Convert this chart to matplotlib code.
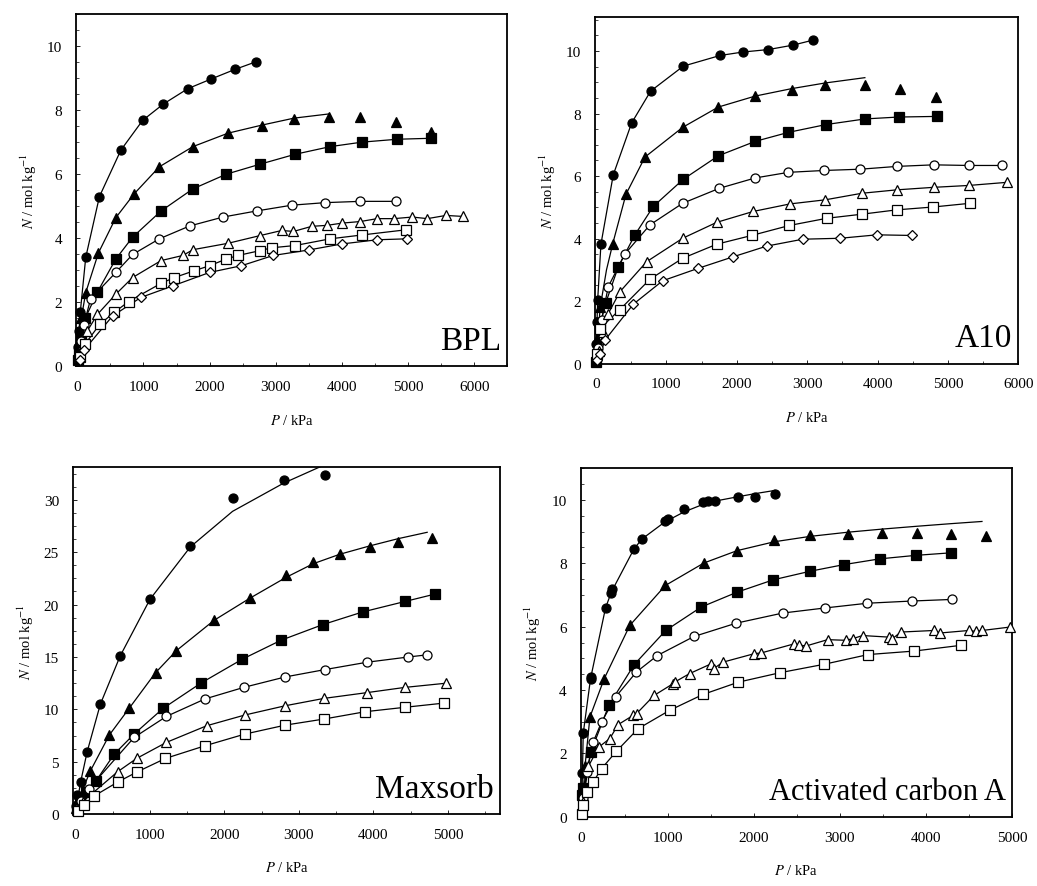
import matplotlib.pyplot as plt
from matplotlib.ticker import MultipleLocator

plt.rcParams['font.family'] = ['Liberation Serif', 'DejaVu Serif']
plt.rcParams['mathtext.fontset'] = 'stix'

# ---------------- BPL ----------------
bpl_fc = [(5, 0.3), (15, 0.6), (25, 1.1), (45, 1.7), (127, 3.4), (334, 5.3), (658, 6.75), (987, 7.68),
          (1300, 8.19), (1670, 8.67), (2020, 8.97), (2380, 9.27), (2700, 9.51)]
bpl_ft = [(10, 0.3), (30, 0.8), (60, 1.5), (127, 2.3), (319, 3.54), (582, 4.64), (861, 5.39), (1240, 6.23),
          (1747, 6.86), (2278, 7.28), (2785, 7.51), (3276, 7.72), (3797, 7.79), (4278, 7.79),
          (4810, 7.64), (5342, 7.33)]
bpl_ft_line = [(0, 0), (30, 0.8), (60, 1.5), (127, 2.3), (319, 3.54), (582, 4.64), (861, 5.39), (1240, 6.23),
               (1747, 6.86), (2278, 7.28), (2785, 7.53), (3276, 7.75), (3800, 7.88)]
bpl_fs = [(10, 0.2), (30, 0.5), (60, 0.9), (120, 1.5), (304, 2.32), (582, 3.35), (835, 4.03), (1266, 4.85),
          (1747, 5.54), (2253, 6.0), (2760, 6.31), (3291, 6.62), (3823, 6.86), (4304, 7.0),
          (4835, 7.09), (5342, 7.12)]
bpl_oc = [(20, 0.3), (50, 0.8), (100, 1.3), (200, 2.1), (582, 2.93), (835, 3.49), (1240, 3.98),
          (1696, 4.38), (2203, 4.66), (2709, 4.85), (3240, 5.03), (3747, 5.11), (4278, 5.15), (4810, 5.15)]
bpl_ot = [(30, 0.3), (80, 0.7), (150, 1.1), (304, 1.62), (582, 2.25), (835, 2.77), (1266, 3.30),
          (1595, 3.46), (1747, 3.64), (2278, 3.84), (2760, 4.08), (3089, 4.24), (3266, 4.21), (3544, 4.37),
          (3772, 4.40), (4000, 4.47), (4278, 4.52), (4532, 4.61), (4785, 4.61), (5063, 4.66), (5291, 4.61),
          (5570, 4.71), (5823, 4.68)]
bpl_os = [(40, 0.3), (120, 0.7), (339, 1.31), (557, 1.68), (775, 2.02), (1266, 2.59), (1468, 2.77),
          (1762, 2.98), (2000, 3.14), (2253, 3.35), (2430, 3.46), (2760, 3.61), (2937, 3.70), (3291, 3.77),
          (3823, 3.98), (4304, 4.10), (4962, 4.26)]
bpl_od = [(40, 0.2), (100, 0.5), (532, 1.57), (962, 2.15), (1443, 2.51), (2000, 2.93), (2481, 3.14),
          (2962, 3.46), (3494, 3.63), (4000, 3.82), (4532, 3.95), (4987, 3.98)]

# ---------------- A10 ----------------
a10_fc = [(5, 0.64), (15, 1.34), (25, 2.05), (71, 3.82), (246, 6.04), (507, 7.70), (777, 8.72), (1242, 9.52),
          (1763, 9.86), (2085, 9.97), (2450, 10.05), (2796, 10.19), (3081, 10.35)]
a10_ft = [(20, 0.8), (60, 1.8), (246, 3.82), (427, 5.42), (697, 6.61), (1232, 7.56), (1739, 8.21),
          (2261, 8.56), (2782, 8.77), (3256, 8.93), (3825, 8.93), (4322, 8.79), (4834, 8.52)]
a10_ft_line = [(0, 0), (60, 1.8), (150, 3.0), (246, 3.9), (427, 5.42), (697, 6.61), (1232, 7.56), (1739, 8.21),
               (2261, 8.56), (2782, 8.80), (3256, 8.98), (3820, 9.15)]
a10_fs = [(5, 0.05), (57, 1.23), (137, 1.93), (318, 3.10), (554, 4.12), (815, 5.03), (1242, 5.90),
          (1739, 6.65), (2261, 7.11), (2735, 7.40), (3270, 7.65), (3825, 7.83), (4299, 7.89), (4843, 7.91)]
a10_oc = [(30, 0.5), (80, 1.4), (175, 2.46), (412, 3.51), (768, 4.44), (1232, 5.13), (1754, 5.61),
          (2261, 5.94), (2735, 6.12), (3242, 6.18), (3754, 6.22), (4275, 6.31), (4796, 6.36),
          (5294, 6.34), (5768, 6.34)]
a10_ot = [(40, 0.4), (100, 1.0), (175, 1.6), (341, 2.30), (720, 3.26), (1232, 4.01), (1716, 4.52),
          (2237, 4.87), (2758, 5.11), (3256, 5.24), (3777, 5.45), (4275, 5.56), (4796, 5.64),
          (5294, 5.70), (5839, 5.80)]
a10_os = [(20, 0.3), (57, 1.12), (341, 1.73), (768, 2.70), (1232, 3.37), (1716, 3.82), (2213, 4.10),
          (2749, 4.42), (3280, 4.65), (3777, 4.78), (4275, 4.92), (4787, 5.01), (5318, 5.13)]
a10_od = [(20, 0.1), (60, 0.3), (128, 0.75), (531, 1.90), (948, 2.65), (1455, 3.05), (1953, 3.42),
          (2427, 3.76), (2938, 3.98), (3469, 4.01), (3991, 4.12), (4488, 4.10)]

# ---------------- Maxsorb ----------------
max_fc = [(10, 0.8), (30, 1.8), (71, 3.03), (160, 5.96), (337, 10.5), (603, 15.1), (1002, 20.5),
          (1543, 25.6), (2110, 30.2), (2797, 31.9), (3351, 32.4)]
max_fc_line = [(0, 0), (71, 3.03), (160, 5.96), (337, 10.5), (603, 15.1), (1002, 20.5), (1543, 25.5),
               (2110, 28.9), (2797, 31.6), (3300, 33.2)]
max_ft = [(15, 0.6), (50, 1.5), (204, 4.14), (457, 7.55), (723, 10.1), (1077, 13.5), (1356, 15.6),
          (1862, 18.5), (2340, 20.6), (2828, 22.8), (3191, 24.1), (3546, 24.8), (3949, 25.5),
          (4335, 26.0), (4778, 26.4)]
max_ft_line = [(0, 0), (50, 1.5), (204, 4.14), (457, 7.55), (723, 10.1), (1077, 13.5), (1356, 15.6),
               (1862, 18.5), (2340, 20.6), (2828, 22.6), (3191, 23.9), (3546, 24.8), (3949, 25.6),
               (4335, 26.3), (4720, 26.9)]
max_fs = [(20, 0.5), (60, 1.2), (146, 2.07), (279, 3.18), (523, 5.73), (789, 7.64), (1179, 10.1),
          (1684, 12.5), (2243, 14.8), (2761, 16.6), (3324, 18.1), (3856, 19.3), (4424, 20.3), (4823, 21.0)]
max_oc = [(25, 0.5), (80, 1.3), (180, 2.4), (789, 7.32), (1223, 9.33), (1742, 11.0), (2261, 12.1),
          (2819, 13.1), (3351, 13.8), (3914, 14.5), (4468, 15.0), (4712, 15.2)]
max_ot = [(30, 0.4), (100, 1.2), (567, 4.04), (824, 5.32), (1223, 6.85), (1764, 8.44), (2274, 9.46),
          (2819, 10.35), (3338, 11.05), (3914, 11.6), (4424, 12.1), (4978, 12.5)]
max_os = [(40, 0.3), (120, 0.9), (257, 1.75), (576, 3.09), (833, 4.04), (1210, 5.32), (1742, 6.53),
          (2274, 7.64), (2819, 8.5), (3338, 9.08), (3892, 9.78), (4424, 10.2), (4947, 10.6)]

# ---------------- Activated carbon A ----------------
aca_fc = [(10, 1.37), (19, 2.63), (104, 4.36), (112, 4.40), (278, 6.59), (347, 7.07), (350, 7.2),
          (610, 8.46), (703, 8.77), (965, 9.32), (1004, 9.40), (1189, 9.70), (1409, 9.93), (1467, 9.95),
          (1552, 9.95), (1815, 10.1), (2019, 10.1), (2247, 10.2)]
aca_fc_line = [(0, 0), (19, 2.63), (104, 4.36), (278, 6.59), (347, 7.1), (610, 8.46), (703, 8.77),
               (965, 9.3), (1189, 9.62), (1467, 9.92), (1815, 10.1), (2019, 10.2), (2247, 10.3)]
aca_ft = [(15, 0.8), (40, 1.6), (97, 3.15), (263, 4.36), (560, 6.04), (973, 7.30), (1421, 8.01),
          (1807, 8.40), (2239, 8.72), (2656, 8.88), (3089, 8.93), (3494, 8.96), (3900, 8.96),
          (4286, 8.93), (4691, 8.86)]
aca_ft_line = [(0, 0), (40, 1.6), (97, 3.15), (263, 4.36), (560, 6.04), (973, 7.30), (1421, 8.01),
               (1807, 8.40), (2239, 8.68), (2656, 8.85), (3089, 8.98), (3494, 9.08), (3900, 9.17),
               (4286, 9.25), (4650, 9.32)]
aca_fs = [(8, 0.68), (20, 0.9), (108, 2.05), (317, 3.52), (610, 4.8), (977, 5.88), (1390, 6.62),
          (1807, 7.09), (2228, 7.48), (2656, 7.75), (3050, 7.96), (3463, 8.14), (3880, 8.25), (4286, 8.33)]
aca_oc = [(20, 0.6), (60, 1.4), (135, 2.36), (232, 2.99), (394, 3.78), (637, 4.57), (880, 5.09),
          (1305, 5.69), (1795, 6.11), (2336, 6.43), (2826, 6.59), (3320, 6.74), (3842, 6.81), (4305, 6.86)]
aca_ot = [(15, 0.47), (80, 1.6), (200, 2.2), (328, 2.47), (425, 2.91), (598, 3.20), (640, 3.26),
          (842, 3.83), (1062, 4.20), (1080, 4.25), (1255, 4.52), (1506, 4.83), (1536, 4.68), (1641, 4.88),
          (2008, 5.15), (2085, 5.17), (2471, 5.46), (2530, 5.42), (2606, 5.39), (2857, 5.59), (3069, 5.57),
          (3147, 5.62), (3263, 5.72), (3571, 5.67), (3610, 5.62), (3707, 5.83), (4093, 5.88), (4162, 5.80),
          (4498, 5.88), (4575, 5.85), (4653, 5.88), (4981, 5.99)]
aca_os = [(5, 0.1), (20, 0.37), (58, 0.79), (135, 1.10), (232, 1.52), (405, 2.07), (656, 2.78), (1023, 3.36),
          (1409, 3.86), (1822, 4.25), (2309, 4.55), (2811, 4.81), (3328, 5.12), (3861, 5.23), (4402, 5.41)]

# marker styles: (marker, filled)
styles = {'fc': ('o', True), 'ft': ('^', True), 'fs': ('s', True),
          'oc': ('o', False), 'ot': ('^', False), 'os': ('s', False), 'od': ('D', False)}

panels = [
    dict(name='BPL', rect=[0.0733, 0.586, 0.416, 0.397], xlim=(-20, 6500), ylim=(0, 11), ymaj=2,
         xticks=range(0, 6001, 1000), fs=24,
         series=[('fc', bpl_fc, None), ('ft', bpl_ft, bpl_ft_line), ('fs', bpl_fs, None),
                 ('oc', bpl_oc, None), ('ot', bpl_ot, None), ('os', bpl_os, None), ('od', bpl_od, None)]),
    dict(name='A10', rect=[0.574, 0.589, 0.408, 0.391], xlim=(-10, 6000), ylim=(0, 11.1), ymaj=2,
         xticks=range(0, 6001, 1000), fs=24,
         series=[('fc', a10_fc, None), ('ft', a10_ft, a10_ft_line), ('fs', a10_fs, None),
                 ('oc', a10_oc, None), ('ot', a10_ot, None), ('os', a10_os, None), ('od', a10_od, None)]),
    dict(name='Maxsorb', rect=[0.0704, 0.081, 0.412, 0.391], xlim=(-30, 5700), ylim=(0, 33.1), ymaj=5,
         xticks=range(0, 5001, 1000), fs=24,
         series=[('fc', max_fc, max_fc_line), ('ft', max_ft, max_ft_line), ('fs', max_fs, None),
                 ('oc', max_oc, None), ('ot', max_ot, None), ('os', max_os, None)]),
    dict(name='Activated carbon A', rect=[0.560, 0.078, 0.416, 0.393], xlim=(-10, 5000), ylim=(0, 11.0),
         ymaj=2, xticks=range(0, 5001, 1000), fs=22,
         series=[('fc', aca_fc, aca_fc_line), ('ft', aca_ft, aca_ft_line), ('fs', aca_fs, None),
                 ('oc', aca_oc, None), ('ot', aca_ot, None), ('os', aca_os, None)]),
]

fig = plt.figure(figsize=(10.37, 8.87), dpi=100)

for p in panels:
    ax = fig.add_axes(p['rect'])
    for key, pts, line in p['series']:
        marker, filled = styles[key]
        xs = [a for a, b in pts]
        ys = [b for a, b in pts]
        if line is None:
            lx = [0] + xs
            ly = [0] + ys
        else:
            lx = [a for a, b in line]
            ly = [b for a, b in line]
        ax.plot(lx, ly, '-', color='black', lw=0.9, zorder=2)
        ms = 6.5 if marker != 'D' else 5.5
        ax.plot(xs, ys, linestyle='none', marker=marker, ms=ms,
                mfc='black' if filled else 'white', mec='black', mew=0.9, zorder=3, clip_on=False)
    ax.set_xlim(*p['xlim'])
    ax.set_ylim(*p['ylim'])
    ax.set_xticks(list(p['xticks']))
    ax.yaxis.set_major_locator(MultipleLocator(p['ymaj']))
    ax.yaxis.set_minor_locator(MultipleLocator(p['ymaj'] / 4))
    ax.xaxis.set_minor_locator(MultipleLocator(500))
    ax.tick_params(which='both', direction='in', labelsize=11, pad=10)
    ax.tick_params(which='major', length=3, width=0.6)
    ax.tick_params(which='minor', length=2, width=0.5)
    for s in ax.spines.values():
        s.set_linewidth(1.3)
    ax.set_xlabel(r'$P$ / kPa', fontsize=10.5, labelpad=14)
    ax.set_ylabel(r'$N$ / mol kg$^{-1}$', fontsize=10.5, labelpad=6)
    ax.text(0.985, 0.03, p['name'], transform=ax.transAxes, ha='right', va='bottom',
            fontsize=p['fs'])

fig.savefig('out.png', dpi=100)
